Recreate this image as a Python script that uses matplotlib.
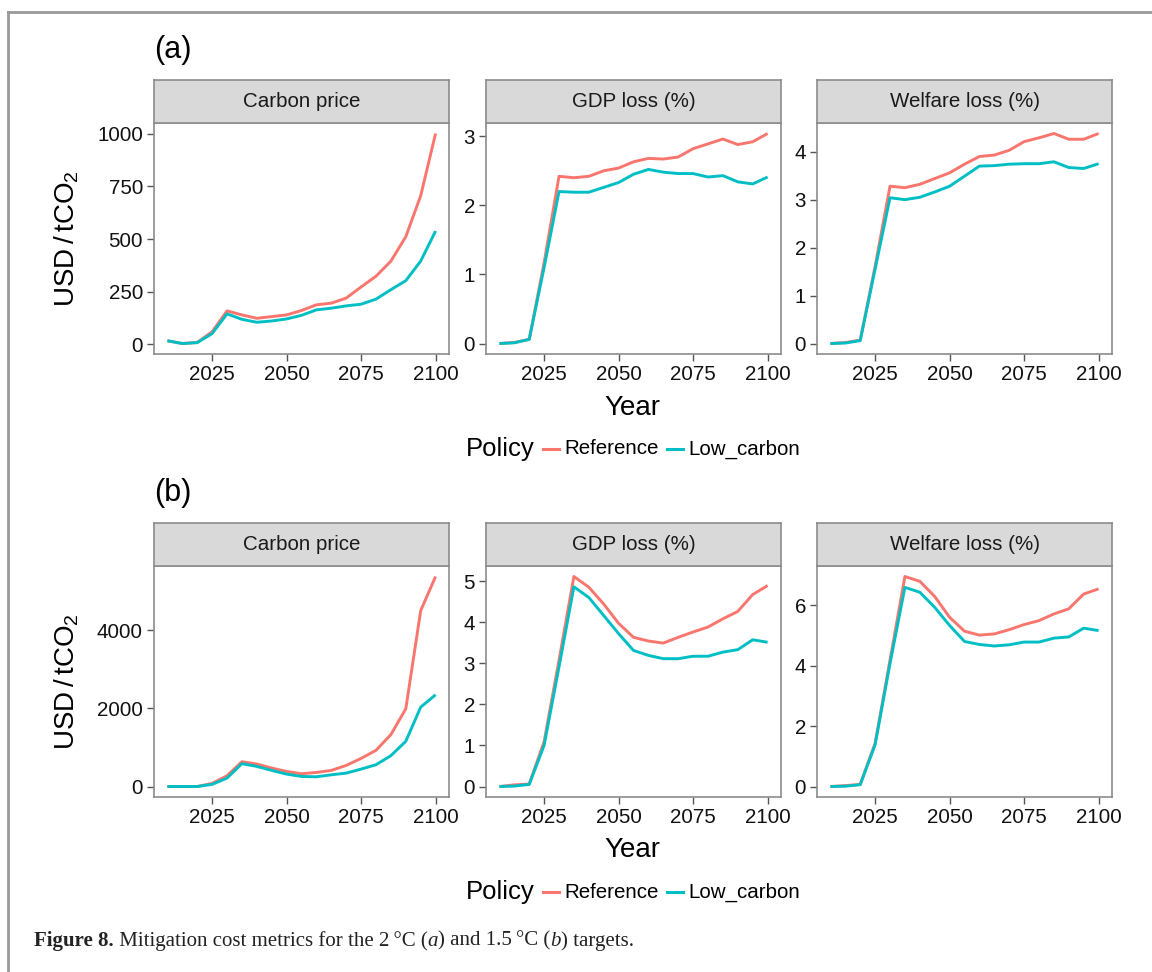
import matplotlib
matplotlib.use("Agg")
import matplotlib.pyplot as plt
from matplotlib.lines import Line2D
import numpy as np

plt.rcParams['font.family'] = ['Liberation Sans', 'DejaVu Sans']
plt.rcParams['mathtext.fontset'] = 'custom'
plt.rcParams['mathtext.rm'] = 'Liberation Sans'
plt.rcParams['mathtext.default'] = 'regular'

# ---- data ----
years = list(range(2010, 2101, 5))
metrics = ["Carbon price", "GDP loss (%)", "Welfare loss (%)"]
policies = ["Reference", "Low_carbon"]

# (a) 2 degC target
a_carbon_ref = [16, 3, 8, 59, 158, 139, 123, 131, 139, 160, 187, 195, 219, 272, 323, 395, 511, 706, 1002]
a_carbon_low = [16, 3, 7, 50, 144, 118, 104, 110, 120, 137, 163, 171, 182, 190, 214, 259, 302, 395, 538]
a_gdp_ref = [0, 0.015, 0.06, 1.17, 2.42, 2.40, 2.42, 2.50, 2.54, 2.63, 2.68, 2.67, 2.70, 2.82, 2.89, 2.96, 2.88, 2.92, 3.04]
a_gdp_low = [0, 0.01, 0.06, 1.10, 2.20, 2.19, 2.19, 2.26, 2.33, 2.45, 2.52, 2.48, 2.46, 2.46, 2.41, 2.43, 2.34, 2.31, 2.41]
a_welf_ref = [0, 0.02, 0.07, 1.61, 3.28, 3.25, 3.32, 3.44, 3.56, 3.74, 3.90, 3.93, 4.03, 4.21, 4.29, 4.38, 4.26, 4.26, 4.38]
a_welf_low = [0, 0.01, 0.06, 1.55, 3.04, 3.00, 3.05, 3.16, 3.28, 3.49, 3.70, 3.71, 3.74, 3.75, 3.75, 3.79, 3.67, 3.65, 3.75]

# (b) 1.5 degC target
b_carbon_ref = [0, 0, 0, 80, 275, 635, 575, 472, 386, 326, 360, 412, 540, 720, 927, 1330, 1990, 4505, 5380]
b_carbon_low = [0, 0, 0, 55, 215, 585, 515, 412, 318, 257, 249, 300, 343, 446, 558, 790, 1158, 2033, 2350]
b_gdp_ref = [0, 0.04, 0.06, 1.09, 3.07, 5.11, 4.85, 4.44, 3.97, 3.63, 3.54, 3.49, 3.63, 3.76, 3.88, 4.08, 4.26, 4.67, 4.89]
b_gdp_low = [0, 0.01, 0.05, 1.00, 2.91, 4.86, 4.60, 4.16, 3.72, 3.31, 3.19, 3.11, 3.11, 3.17, 3.17, 3.27, 3.33, 3.57, 3.51]
b_welf_ref = [0, 0.03, 0.07, 1.43, 4.18, 6.95, 6.79, 6.29, 5.60, 5.14, 5.01, 5.05, 5.19, 5.36, 5.49, 5.71, 5.88, 6.37, 6.54]
b_welf_low = [0, 0.01, 0.06, 1.38, 4.07, 6.59, 6.43, 5.93, 5.33, 4.80, 4.70, 4.65, 4.69, 4.78, 4.78, 4.91, 4.95, 5.24, 5.16]

x_ticks = [2025, 2050, 2075, 2100]
a_yticks = [[0, 250, 500, 750, 1000], [0, 1, 2, 3], [0, 1, 2, 3, 4]]
b_yticks = [[0, 2000, 4000], [0, 1, 2, 3, 4, 5], [0, 2, 4, 6]]

rows = [
    ("(a)", [(a_carbon_ref, a_carbon_low), (a_gdp_ref, a_gdp_low), (a_welf_ref, a_welf_low)], a_yticks),
    ("(b)", [(b_carbon_ref, b_carbon_low), (b_gdp_ref, b_gdp_low), (b_welf_ref, b_welf_low)], b_yticks),
]

colors = ["#F8766D", "#00BFC4"]
border = "#8C8C8C"
txt = "#000000"

W, H = 1152, 972
fig = plt.figure(figsize=(W / 100, H / 100), dpi=100)


def px_axes(x0, y0, x1, y1):
    # pixel box (top-left origin) -> figure axes
    return fig.add_axes([x0 / W, 1 - y1 / H, (x1 - x0) / W, (y1 - y0) / H])


panel_x = [(154, 449), (486, 781), (817, 1112)]
row_geo = [
    # strip_top, panel_top, panel_bottom, label_y, year_y, legend_y
    (80, 123, 354, 50, 408, 449),
    (523, 566, 797, 493, 850, 892),
]

for (tag, series, yticks), (s_top, p_top, p_bot, lab_y, year_y, leg_y) in zip(rows, row_geo):
    for (x0, x1), (ref, low), yt, name in zip(panel_x, series, yticks, metrics):
        ax = px_axes(x0, p_top, x1, p_bot)
        ax.plot(years, ref, color=colors[0], lw=2.1, solid_capstyle='butt')
        ax.plot(years, low, color=colors[1], lw=2.1, solid_capstyle='butt')
        allv = np.array(ref + low, dtype=float)
        lo, hi = allv.min(), allv.max()
        pad = 0.05 * (hi - lo)
        ax.set_ylim(lo - pad, hi + pad)
        ax.set_xlim(2005.5, 2104.5)
        ax.set_xticks(x_ticks)
        ax.set_yticks(yt)
        ax.tick_params(axis='both', length=5, width=1, color="#555555",
                       labelsize=14.8, labelcolor="#111111", pad=3)
        for sp in ax.spines.values():
            sp.set_color(border)
            sp.set_linewidth(1.2)

        st = px_axes(x0, s_top, x1, p_top)
        st.set_facecolor("#D9D9D9")
        st.set_xticks([])
        st.set_yticks([])
        for sp in st.spines.values():
            sp.set_color(border)
            sp.set_linewidth(1.2)
        st.text(0.5, 0.5, name, ha='center', va='center', fontsize=14.8,
                color="#1A1A1A", transform=st.transAxes)

    fig.text(154 / W, 1 - lab_y / H, tag, fontsize=22, ha='left', va='center', color=txt)
    fig.text(67 / W, 1 - (p_top + p_bot) / 2 / H, r"USD$\,$/$\,$tCO$_2$", rotation=90,
             fontsize=20, ha='center', va='center', color=txt)
    fig.text(632 / W, 1 - year_y / H, "Year", fontsize=20, ha='center', va='center', color=txt)

    # legend
    fig.text(466 / W, 1 - leg_y / H, "Policy", fontsize=18.5, ha='left', va='center', color=txt)
    key_x = [(543, 559), (667, 683)]
    lab_x = [564, 688]
    for (k0, k1), lx, pol, col in zip(key_x, lab_x, policies, colors):
        fig.add_artist(Line2D([k0 / W, k1 / W], [1 - leg_y / H, 1 - leg_y / H],
                              color=col, lw=2.2, transform=fig.transFigure))
        fig.text(lx / W, 1 - leg_y / H, pol, fontsize=14.8, ha='left', va='center', color=txt)

# outer frame of the figure box
fig.add_artist(Line2D([8 / W, 1.0], [1 - 12 / H, 1 - 12 / H], color="#999999", lw=2,
                      transform=fig.transFigure))
fig.add_artist(Line2D([8 / W, 8 / W], [1 - 12 / H, 0], color="#999999", lw=2,
                      transform=fig.transFigure))

# caption with mixed styles
pieces = [
    ("Figure 8.", 'bold', 'normal'),
    (" Mitigation cost metrics for the 2\u2009\u00b0C (", 'normal', 'normal'),
    ("a", 'normal', 'italic'),
    (") and 1.5\u2009\u00b0C (", 'normal', 'normal'),
    ("b", 'normal', 'italic'),
    (") targets.", 'normal', 'normal'),
]
renderer = fig.canvas.get_renderer()
cx = 34
for s, wgt, sty in pieces:
    t = fig.text(cx / W, 1 - 941 / H, s, fontsize=15, fontweight=wgt, fontstyle=sty,
                 family=['Liberation Serif', 'DejaVu Serif'], ha='left', va='center', color="#222222")
    bb = t.get_window_extent(renderer=renderer)
    cx += bb.width

fig.savefig("out.png", dpi=100, facecolor='white')
